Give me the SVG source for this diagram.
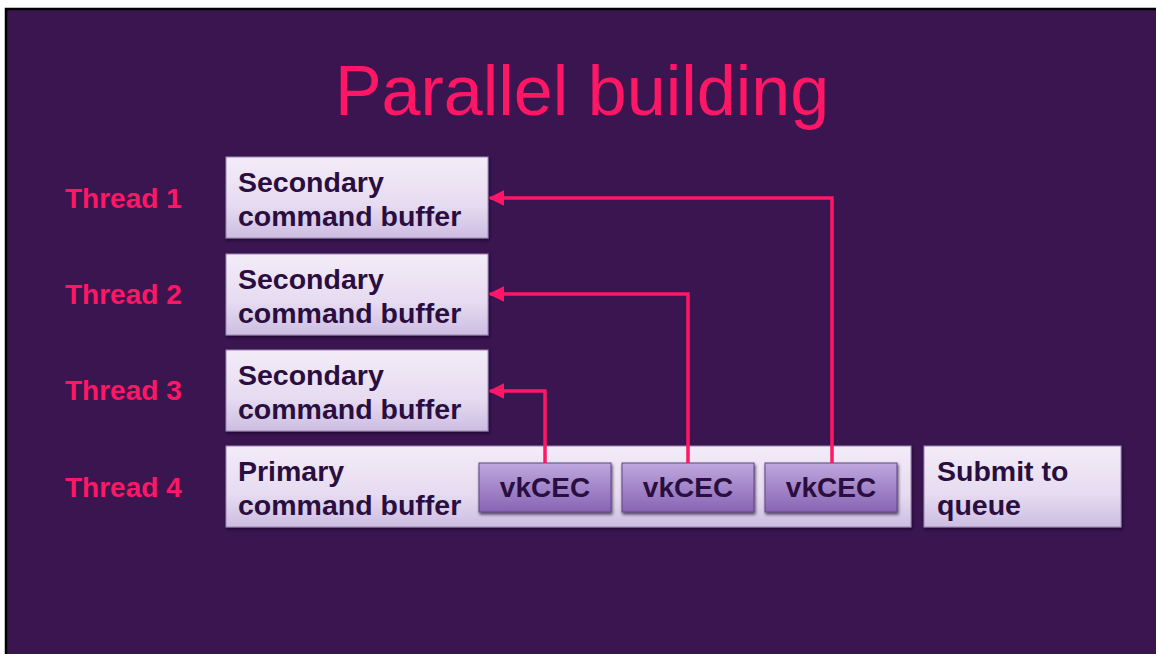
<svg xmlns="http://www.w3.org/2000/svg" width="1156" height="654" viewBox="0 0 1156 654">
<defs>
<linearGradient id="gBox" x1="0" y1="0" x2="0" y2="1">
<stop offset="0" stop-color="#f3ecf8"/>
<stop offset="0.6" stop-color="#e6dbf0"/>
<stop offset="1" stop-color="#cdbde2"/>
</linearGradient>
<linearGradient id="gVk" x1="0" y1="0" x2="0" y2="1">
<stop offset="0" stop-color="#bfa8de"/>
<stop offset="1" stop-color="#8764b4"/>
</linearGradient>
<filter id="sh" x="-5%" y="-5%" width="110%" height="120%">
<feDropShadow dx="1" dy="2" stdDeviation="1.5" flood-color="#150020" flood-opacity="0.7"/>
</filter>
<marker id="arr" viewBox="0 0 10 10" refX="9" refY="5" markerWidth="4.5" markerHeight="4.5" orient="auto">
<path d="M0,0 L10,5 L0,10 Z" fill="#ff1766"/>
</marker>
</defs>
<style>
.box{fill:url(#gBox);stroke:#9a86b4;stroke-width:1;filter:url(#sh)}
.vk{fill:url(#gVk);stroke:#5e4684;stroke-width:1;filter:url(#sh)}
.t{font-family:"Liberation Sans",Arial,sans-serif;font-weight:bold;font-size:28.5px;fill:#2b0e40}
.vt{font-family:"Liberation Sans",Arial,sans-serif;font-weight:bold;font-size:28px;fill:#2b0e40;text-anchor:middle}
.th{font-family:"Liberation Sans",Arial,sans-serif;font-weight:bold;font-size:28px;fill:#ff1766}
.c{fill:none;stroke:#ff1766;stroke-width:3.5;marker-end:url(#arr)}
</style>
<rect x="0" y="0" width="1156" height="654" fill="#ffffff"/>
<rect x="5" y="8" width="1151" height="646" fill="#3a1550"/>
<path d="M6,654 V9 H1156" fill="none" stroke="#000" stroke-width="2.5"/>
<text x="582" y="115" text-anchor="middle" font-family="'Liberation Sans',Arial,sans-serif" font-size="70" fill="#ff1766">Parallel building</text>

<g id="labels">
<text class="th" x="65" y="208">Thread 1</text>
<text class="th" x="65" y="304">Thread 2</text>
<text class="th" x="65" y="400">Thread 3</text>
<text class="th" x="65" y="497">Thread 4</text>
</g>

<g id="secondary1">
<rect class="box" x="226" y="157" width="262" height="81"/>
<text class="t" x="238" y="192">Secondary</text>
<text class="t" x="238" y="226">command buffer</text>
</g>
<g id="secondary2">
<rect class="box" x="226" y="254" width="262" height="81"/>
<text class="t" x="238" y="289">Secondary</text>
<text class="t" x="238" y="323">command buffer</text>
</g>
<g id="secondary3">
<rect class="box" x="226" y="350" width="262" height="81"/>
<text class="t" x="238" y="385">Secondary</text>
<text class="t" x="238" y="419">command buffer</text>
</g>
<g id="primary">
<rect class="box" x="226" y="446" width="685" height="81"/>
<text class="t" x="238" y="481">Primary</text>
<text class="t" x="238" y="515">command buffer</text>
</g>
<g id="vkcec1">
<rect class="vk" x="479" y="463" width="132" height="49"/>
<text class="vt" x="545" y="497">vkCEC</text>
</g>
<g id="vkcec2">
<rect class="vk" x="622" y="463" width="132" height="49"/>
<text class="vt" x="688" y="497">vkCEC</text>
</g>
<g id="vkcec3">
<rect class="vk" x="765" y="463" width="132" height="49"/>
<text class="vt" x="831" y="497">vkCEC</text>
</g>
<g id="submit">
<rect class="box" x="924" y="446" width="197" height="81"/>
<text class="t" x="937" y="481">Submit to</text>
<text class="t" x="937" y="515">queue</text>
</g>

<g id="connectors">
<path class="c" d="M545,463 V391 H490"/>
<path class="c" d="M688,463 V294 H490"/>
<path class="c" d="M832,463 V198 H490"/>
</g>
</svg>
